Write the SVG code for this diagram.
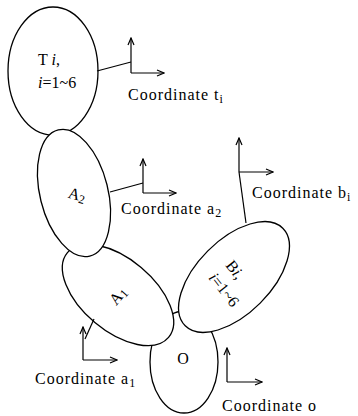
<svg xmlns="http://www.w3.org/2000/svg" width="358" height="416" viewBox="0 0 358 416" font-family="'Liberation Serif', 'DejaVu Serif', serif">
<style>
.shape{fill:#fff;stroke:#000;stroke-width:1.3}
.ln{fill:none;stroke:#000;stroke-width:1.2}
.ax{fill:none;stroke:#000;stroke-width:1.2;marker-end:url(#ah)}
text{font-family:'Liberation Serif','DejaVu Serif',serif;font-size:16px;fill:#000}
.lbl{letter-spacing:1px}
.sub{font-size:12px;letter-spacing:0}
.it{font-style:italic}
</style>
<defs>
<marker id="ah" markerWidth="10" markerHeight="10" refX="9" refY="5" orient="auto" markerUnits="userSpaceOnUse">
<path d="M2,2 L9,5 L2,8" fill="none" stroke="#000" stroke-width="1.2"/>
</marker>
</defs>
<rect width="358" height="416" fill="#fff"/>
<g id="node-T">
<ellipse class="shape" cx="53" cy="71" rx="45" ry="64"/>
<text x="38" y="65">T <tspan class="it">i</tspan>,</text>
<text x="38" y="88"><tspan class="it">i</tspan>=1~6</text>
</g>
<g id="node-O">
<ellipse class="shape" cx="184" cy="362" rx="34" ry="51"/>
<text x="183" y="364" text-anchor="middle">O</text>
</g>
<g id="node-A1">
<ellipse class="shape" cx="118" cy="295" rx="66" ry="36" transform="rotate(40 118 295)"/>
<text x="118" y="301" text-anchor="middle" transform="rotate(-50 118 296)">A<tspan class="sub" dy="2">1</tspan></text>
</g>
<g id="node-B">
<ellipse class="shape" cx="234" cy="277" rx="69" ry="37" transform="rotate(-45 234 277)"/>
<g transform="translate(230 280) rotate(52)">
<text x="-5" y="-5" text-anchor="middle">B<tspan class="it">i</tspan>,</text>
<text x="4" y="16" text-anchor="middle"><tspan class="it">i</tspan>=1~6</text>
</g>
</g>
<g id="node-A2">
<ellipse class="shape" cx="74" cy="193" rx="34" ry="65" transform="rotate(-14 74 193)"/>
<text x="77" y="200" text-anchor="middle" transform="rotate(15 77 195)">A<tspan class="sub" dy="2">2</tspan></text>
</g>
<g id="connectors">
<line class="ln" x1="97" y1="71" x2="131" y2="62"/>
<line class="ln" x1="110" y1="192" x2="143" y2="183"/>
<line class="ln" x1="246" y1="223" x2="239" y2="172"/>
<line class="ln" x1="94" y1="319" x2="85" y2="339"/>
</g>
<g id="frame-t">
<line class="ax" x1="131" y1="73" x2="131" y2="38"/>
<line class="ax" x1="131" y1="73" x2="164" y2="73"/>
<text class="lbl" x="128" y="100">Coordinate t<tspan class="sub" dy="3">i</tspan></text>
</g>
<g id="frame-a2">
<line class="ax" x1="143" y1="193" x2="143" y2="159"/>
<line class="ax" x1="143" y1="193" x2="176" y2="193"/>
<text class="lbl" x="121" y="214">Coordinate a<tspan class="sub" dy="3">2</tspan></text>
</g>
<g id="frame-b">
<line class="ax" x1="239" y1="172" x2="239" y2="138"/>
<line class="ax" x1="239" y1="172" x2="273" y2="172"/>
<text class="lbl" x="252" y="198">Coordinate b<tspan class="sub" dy="3">i</tspan></text>
</g>
<g id="frame-a1">
<line class="ax" x1="83" y1="360" x2="83" y2="327"/>
<line class="ax" x1="83" y1="360" x2="117" y2="360"/>
<text class="lbl" x="35" y="384">Coordinate a<tspan class="sub" dy="3">1</tspan></text>
</g>
<g id="frame-o">
<line class="ax" x1="227" y1="382" x2="227" y2="348"/>
<line class="ax" x1="227" y1="382" x2="262" y2="382"/>
<text class="lbl" x="222" y="411">Coordinate o</text>
</g>
</svg>
